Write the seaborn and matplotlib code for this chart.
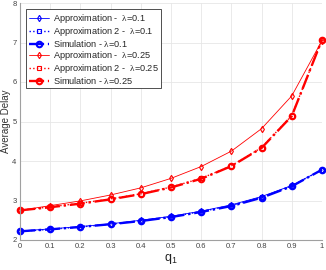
import numpy as np
import pandas as pd
import matplotlib
matplotlib.use("Agg")
import matplotlib.pyplot as plt
import seaborn as sns

q1 = [0, 0.1, 0.2, 0.3, 0.4, 0.5, 0.6, 0.7, 0.8, 0.9, 1.0]

approx_l01 = [2.23, 2.28, 2.34, 2.41, 2.50, 2.60, 2.73, 2.89, 3.10, 3.38, 3.78]
approx2_l01 = [2.22, 2.27, 2.33, 2.40, 2.49, 2.59, 2.72, 2.87, 3.08, 3.37, 3.78]
sim_l01 = [2.22, 2.27, 2.33, 2.40, 2.48, 2.58, 2.71, 2.86, 3.07, 3.36, 3.78]

approx_l025 = [2.75, 2.87, 2.99, 3.14, 3.32, 3.56, 3.86, 4.25, 4.82, 5.65, 7.05]
approx2_l025 = [2.75, 2.84, 2.93, 3.04, 3.17, 3.34, 3.56, 3.88, 4.34, 5.15, 7.07]
sim_l025 = [2.75, 2.83, 2.92, 3.03, 3.16, 3.33, 3.55, 3.87, 4.33, 5.14, 7.07]

lam = "$\\mathrm{\\lambda}$"
series = [
    ("Approximation -  " + lam + "=0.1", approx_l01, "blue", "-", "d", 0.6, 3.2),
    ("Approximation 2 -  " + lam + "=0.1", approx2_l01, "blue", ":", "s", 1.0, 2.8),
    ("Simulation - " + lam + "=0.1", sim_l01, "blue", "-.", "o", 1.7, 4.0),
    ("Approximation -  " + lam + "=0.25", approx_l025, "red", "-", "d", 0.6, 3.2),
    ("Approximation 2 -  " + lam + "=0.25", approx2_l025, "red", ":", "s", 1.0, 2.8),
    ("Simulation - " + lam + "=0.25", sim_l025, "red", "-.", "o", 1.7, 4.0),
]

sns.set_style("whitegrid")
plt.rcParams["font.family"] = ["Liberation Sans", "DejaVu Sans"]
plt.rcParams["mathtext.fontset"] = "custom"
plt.rcParams["mathtext.rm"] = "Liberation Serif"
plt.rcParams["mathtext.it"] = "Liberation Sans"

fig = plt.figure(figsize=(3.26, 2.70), dpi=100)
ax = fig.add_axes([20 / 326, 30 / 270, 302 / 326, 237 / 270])

for name, vals, color, ls, mk, lw, ms in series:
    df = pd.DataFrame({"q1": q1, "delay": vals})
    sns.lineplot(data=df, x="q1", y="delay", ax=ax, color=color, linestyle=ls,
                 linewidth=lw, marker=mk, markersize=ms, markerfacecolor="none",
                 markeredgecolor=color, markeredgewidth=0.8 if lw < 1.5 else 1.5,
                 label=name, clip_on=False)

ax.set_xlim(0, 1)
ax.set_ylim(2, 8)
ax.set_xticks(q1)
ax.set_xticklabels(["0", "0.1", "0.2", "0.3", "0.4", "0.5", "0.6", "0.7", "0.8", "0.9", "1"])
ax.set_yticks([2, 3, 4, 5, 6, 7, 8])
ax.tick_params(labelsize=5.5, length=2, direction="in", pad=2.5,
               colors="#888888", labelcolor="#444444")
ax.grid(True, color="#e6e6e6", linewidth=0.6)
for side in ["top", "right"]:
    ax.spines[side].set_visible(False)
for side in ["left", "bottom"]:
    ax.spines[side].set_color("#a0a0a0")
    ax.spines[side].set_linewidth(0.8)

ax.set_xlabel("q$_\\mathregular{1}$", fontsize=9, labelpad=1, color="#222222")
ax.set_ylabel("Average Delay", fontsize=7, labelpad=1, color="#333333")

leg = ax.legend(loc="upper left", fontsize=6.6, frameon=True, fancybox=False,
                handlelength=2.2, handletextpad=0.4, borderpad=0.25,
                labelspacing=0.0, borderaxespad=0.7)
leg.get_frame().set_edgecolor("#333333")
leg.get_frame().set_linewidth(0.6)
leg.get_frame().set_alpha(1)

fig.savefig("out.png", dpi=100)
